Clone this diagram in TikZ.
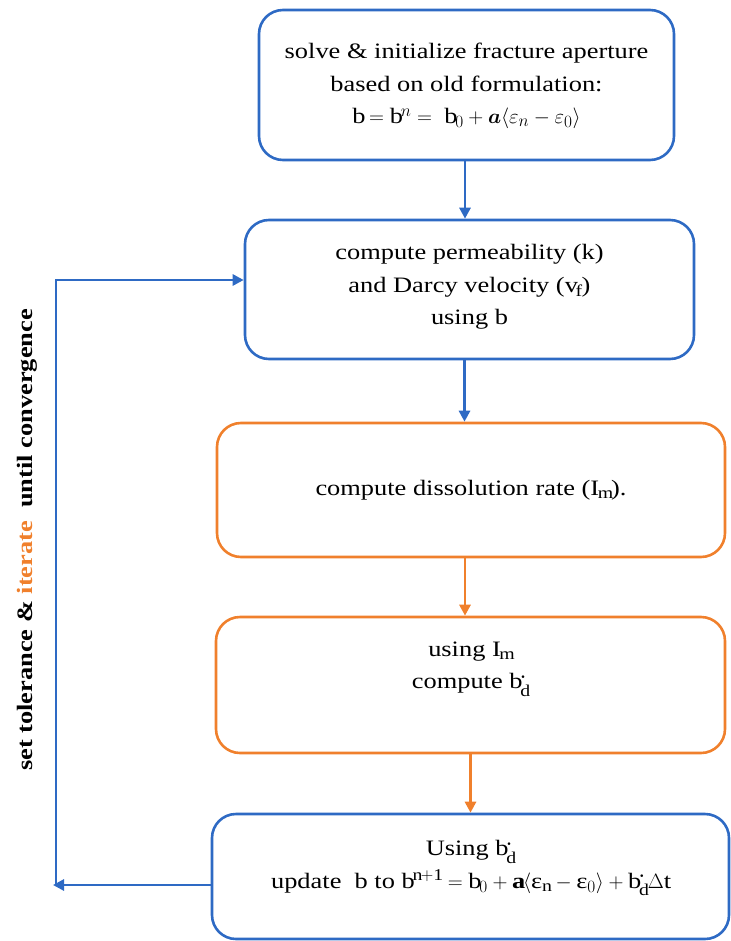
\documentclass[tikz,border=0pt]{standalone}
\usepackage{amsmath}
\usepackage{fontspec}
\setmainfont{Liberation Serif}[FakeStretch=1.2]
\usetikzlibrary{arrows.meta,calc}
\DeclareMathSizes{22}{22}{16.5}{12}
\definecolor{boxblue}{RGB}{46,106,196}
\definecolor{boxorange}{RGB}{240,128,44}
\newcommand{\bdot}{\mathrm{b}^{\boldsymbol{\cdot}}_{\mathrm{d}}}
\begin{document}
\begin{tikzpicture}[x=1pt,y=-1pt,
  font=\fontsize{22}{32.5}\selectfont,
  boxshape/.style={draw,line width=2.6pt,rounded corners=24pt,inner sep=0pt,fill=white},
  bluebox/.style={boxshape,draw=boxblue},
  orangebox/.style={boxshape,draw=boxorange},
  boxtext/.style={align=center,inner sep=0pt},
  arr/.style={line width=2.8pt,-{Triangle[length=11pt,width=11pt]}},
  bluearr/.style={arr,draw=boxblue},
  orangearr/.style={arr,draw=boxorange}]
\useasboundingbox (0,0) rectangle (730,941);
% boxes
\node[bluebox,minimum width=415pt,minimum height=150pt] (b1) at (466.5,85) {};
\node[bluebox,minimum width=449pt,minimum height=139pt] (b2) at (469.5,289.5) {};
\node[orangebox,minimum width=508pt,minimum height=134pt] (b3) at (471,490) {};
\node[orangebox,minimum width=509pt,minimum height=136pt] (b4) at (470.5,685) {};
\node[bluebox,minimum width=517pt,minimum height=125pt] (b5) at (470.5,876.5) {};
% texts
\node[boxtext] (t1) at (466.5,86) {solve \& initialize fracture aperture\\
  based on old formulation:\\
  $\mathrm{b}=\mathrm{b}^{n}=\ \mathrm{b}_{0}+\boldsymbol{a}\langle\varepsilon_{n}-\varepsilon_{0}\rangle$};
\node[boxtext] (t2) at (469.5,287) {compute permeability (k)\\
  and Darcy velocity ($\mathrm{v}_{\mathrm{f}}$)\\
  using b};
\node[boxtext] (t3) at (471,490) {compute dissolution rate ($\mathrm{I}_{\mathrm{m}}$).};
\node[boxtext] (t4) at (470.5,669) {using $\mathrm{I}_{\mathrm{m}}$\\
  compute $\bdot$};
\node[boxtext] (t5) at (470.5,868) {Using $\bdot$\\
  update\ \ b to $\mathrm{b}^{\mathrm{n+1}}=\mathrm{b}_{0}+\mathbf{a}\langle\text{ε}_{\mathrm{n}}-\text{ε}_{0}\rangle+\bdot\Delta\mathrm{t}$};
% label
\node[rotate=90,inner sep=0pt] (lbl) at (27,540) {\bfseries set tolerance \& \textcolor{boxorange}{iterate}\ \ until convergence};
% connectors
\draw[bluearr] ($(b1.south)+(-1.5,0)$) -- ($(b1.south |- b2.north)+(-1.5,0)$);
\draw[bluearr] ($(b2.south)+(-5,0)$) -- ($(b2.south |- b3.north)+(-5,0)$);
\draw[orangearr] ($(b3.south)+(-6,0)$) -- ($(b3.south |- b4.north)+(-6,0)$);
\draw[orangearr] (b4.south) -- (b4.south |- b5.north);
\coordinate (c1) at (53,885);
\coordinate (c2) at (56,280);
\draw[bluearr] (c1 -| b5.west) -- (c1);
\draw[bluearr] (c2 |- c1) -- (c2) -- (c2 -| b2.west);
\end{tikzpicture}
\end{document}
